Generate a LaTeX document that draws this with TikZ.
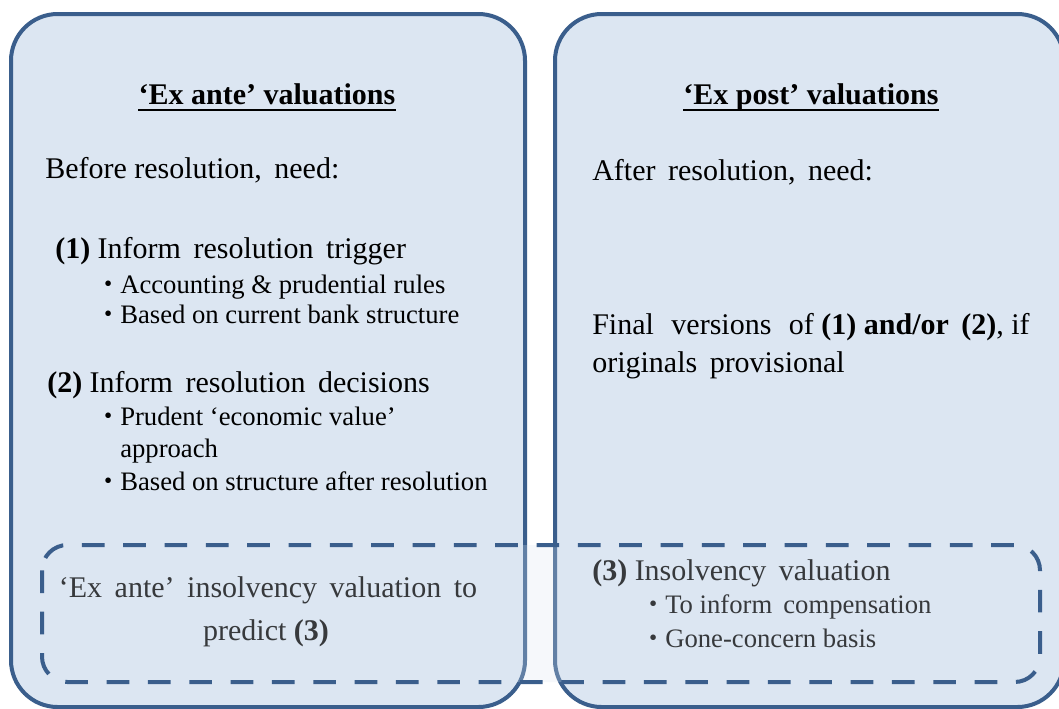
\documentclass[tikz,border=0pt]{standalone}
\usepackage{fontspec}
\usepackage{graphicx}
\setmainfont{Liberation Serif}
\definecolor{boxfill}{RGB}{220,230,242}
\definecolor{boxline}{RGB}{58,94,140}
\newcommand{\mybul}{\llap{\raisebox{0.9pt}{\fontsize{17.5}{17.5}\selectfont\textbullet}\hspace{6pt}}}
\begin{document}
\begin{tikzpicture}[x=0.75pt,y=-0.75pt,
  panel/.style={draw=boxline,fill=boxfill,line width=3pt,rounded corners=35pt},
  dashbox/.style={draw=boxline,fill=boxfill,fill opacity=0.25,draw opacity=1,line width=3pt,rounded corners=19pt,dash pattern=on 17pt off 14pt},
  maintxt/.style={anchor=base west,inner sep=0pt,font=\fontsize{22.5}{27}\selectfont},
  ctrtxt/.style={anchor=base,inner sep=0pt,font=\fontsize{22.5}{27}\selectfont},
  titletxt/.style={anchor=base,inner sep=0pt,font=\fontsize{22.5}{27}\selectfont\bfseries},
  bultxt/.style={anchor=base west,inner sep=0pt,font=\fontsize{20}{24}\selectfont},
  uline/.style={line width=1.5pt,black}
]
\clip (0,0) rectangle (1059,708);
\fill[white] (0,0) rectangle (1059,708);

% panels
\draw[panel] (11,14) rectangle (525,707);
\draw[panel] (555,14) rectangle (1064,707);

% left panel
\node[titletxt] (tl) at (267,104) {‘Ex ante’ valuations};
\draw[uline] ([yshift=-4.5pt]tl.base west) -- ([yshift=-4.5pt]tl.base east);
\node[maintxt] (l1) at (45,178) {Before resolution,\, need:};
\node[maintxt] (l2) at (55,258) {\textbf{(1)} Inform\, resolution\, trigger};
\node[bultxt] (l3) at (120,293) {\mybul Accounting \& prudential rules};
\node[bultxt] (l4) at (120,323) {\mybul Based on current bank structure};
\node[maintxt] (l5) at (47,392) {\textbf{(2)} Inform\, resolution\, decisions};
\node[bultxt] (l6) at (120,425) {\mybul Prudent ‘economic value’};
\node[bultxt] (l7) at (120,457) {approach};
\node[bultxt] (l8) at (120,490) {\mybul Based on structure after resolution};
\node[ctrtxt] (l9) at (268,597) {‘Ex\, ante’\, insolvency\, valuation\, to};
\node[ctrtxt] (l10) at (266,640) {predict \textbf{(3)}};

% right panel
\node[titletxt] (tr) at (811,104) {‘Ex post’ valuations};
\draw[uline] ([yshift=-4.5pt]tr.base west) -- ([yshift=-4.5pt]tr.base east);
\node[maintxt] (r1) at (592,180) {After\, resolution,\, need:};
\node[maintxt] (r2) at (592,334) {Final\,\, versions\,\, of \textbf{(1) and/or\, (2)}, if};
\node[maintxt] (r3) at (592,372) {originals\, provisional};
\node[maintxt] (r4) at (592,580) {\textbf{(3)} Insolvency\, valuation};
\node[bultxt] (r5) at (665,613) {\mybul To inform\, compensation};
\node[bultxt] (r6) at (665,647) {\mybul Gone-concern basis};

% dashed overlay
\draw[dashbox] (42,545) rectangle (1040,682);
\end{tikzpicture}
\end{document}
